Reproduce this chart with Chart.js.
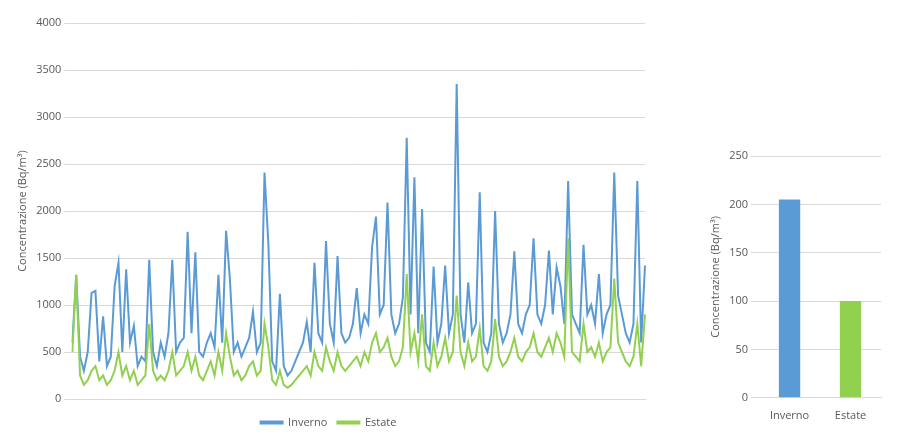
<!DOCTYPE html>
<html><head><script src="https://cdn.jsdelivr.net/npm/chart.js@4"></script>
<style>body{margin:0;background:#fff;width:900px;height:438px;position:relative;overflow:hidden}
#a{position:absolute;left:0;top:0;width:655px;height:438px}#b{position:absolute;left:705px;top:0;width:190px;height:438px}</style></head>
<body><div id="a"><canvas id="c1"></canvas></div><div id="b"><canvas id="c2"></canvas></div>
<script>
const inverno=[600,1320,450,300,500,1130,1150,400,880,350,
450,1200,1450,500,1380,600,780,350,450,400,
1480,500,350,600,450,700,1480,500,600,650,
1780,700,1560,500,450,600,700,550,1320,600,
1790,1270,500,600,450,550,650,930,500,600,
2410,1650,400,300,1120,350,250,300,400,500,
600,820,500,1450,700,600,1680,800,600,1520,
700,600,650,800,1180,700,900,800,1620,1940,
900,1000,2090,900,700,800,1080,2780,900,2360,
700,2020,600,500,1410,600,800,1420,700,900,
3350,900,600,1240,700,800,2200,600,500,700,
2000,800,600,700,900,1570,800,700,900,1000,
1710,900,800,1000,1580,900,1400,1200,800,2320,
900,800,700,1640,900,1000,800,1330,700,900,
1000,2410,1100,900,700,600,800,2320,600,1420];
const estate=[500,1320,250,150,200,300,350,200,250,150,
200,300,500,250,350,200,300,150,200,250,
800,300,200,250,200,300,500,250,300,350,
500,300,450,250,200,300,400,250,500,300,
700,450,250,300,200,250,350,400,250,300,
800,550,200,150,300,150,120,150,200,250,
300,350,250,500,350,300,550,400,300,500,
350,300,350,400,450,350,500,400,600,700,
500,550,650,450,350,400,550,1330,500,700,
400,900,350,300,600,350,450,650,400,500,
1100,500,350,600,400,450,750,350,300,400,
850,450,350,400,500,650,450,400,500,550,
700,500,450,550,650,500,700,600,450,1710,
500,450,400,800,500,550,450,600,400,500,
550,1280,600,500,400,350,450,800,350,900];
const seriesNames=['Inverno','Estate'];
const means=[205,100];
const labels=inverno.map((_,i)=>i+1);
const BLUE='#5b9bd5',GREEN='#92d050',TXT='#595959',GRID='#d9d9d9';
Chart.defaults.font.family='"Open Sans", "Liberation Sans", sans-serif';
Chart.defaults.font.size=11;Chart.defaults.color=TXT;
const ytitle={display:true,text:'Concentrazione (Bq/m³)',color:TXT,font:{size:11}};
new Chart(document.getElementById('c1'),{type:'line',
data:{labels,datasets:[
{label:seriesNames[1],data:estate,borderColor:GREEN,backgroundColor:GREEN,borderWidth:2,pointRadius:0,tension:0,order:0},
{label:seriesNames[0],data:inverno,borderColor:BLUE,backgroundColor:BLUE,borderWidth:2,pointRadius:0,tension:0,order:1}]},
options:{responsive:true,maintainAspectRatio:false,animation:false,
layout:{padding:{top:23,right:10,left:12,bottom:0}},
plugins:{legend:{position:'bottom',labels:{boxWidth:22,boxHeight:2,padding:10,sort:(a,b)=>b.datasetIndex-a.datasetIndex}},tooltip:{enabled:false}},
scales:{x:{ticks:{display:false},grid:{display:false},border:{color:GRID}},
y:{min:0,max:4000,ticks:{stepSize:500,callback:v=>String(v)},grid:{color:GRID},border:{display:false},title:ytitle}}}});
new Chart(document.getElementById('c2'),{type:'bar',
data:{labels:seriesNames,datasets:[{data:means,backgroundColor:[BLUE,GREEN],barPercentage:0.35,categoryPercentage:1}]},
options:{responsive:true,maintainAspectRatio:false,animation:false,
layout:{padding:{top:156,right:14,bottom:13}},
plugins:{legend:{display:false},tooltip:{enabled:false}},
scales:{x:{grid:{display:false},border:{color:GRID}},
y:{min:0,max:250,ticks:{stepSize:50},grid:{color:GRID},border:{display:false},title:ytitle}}}});
</script></body></html>
